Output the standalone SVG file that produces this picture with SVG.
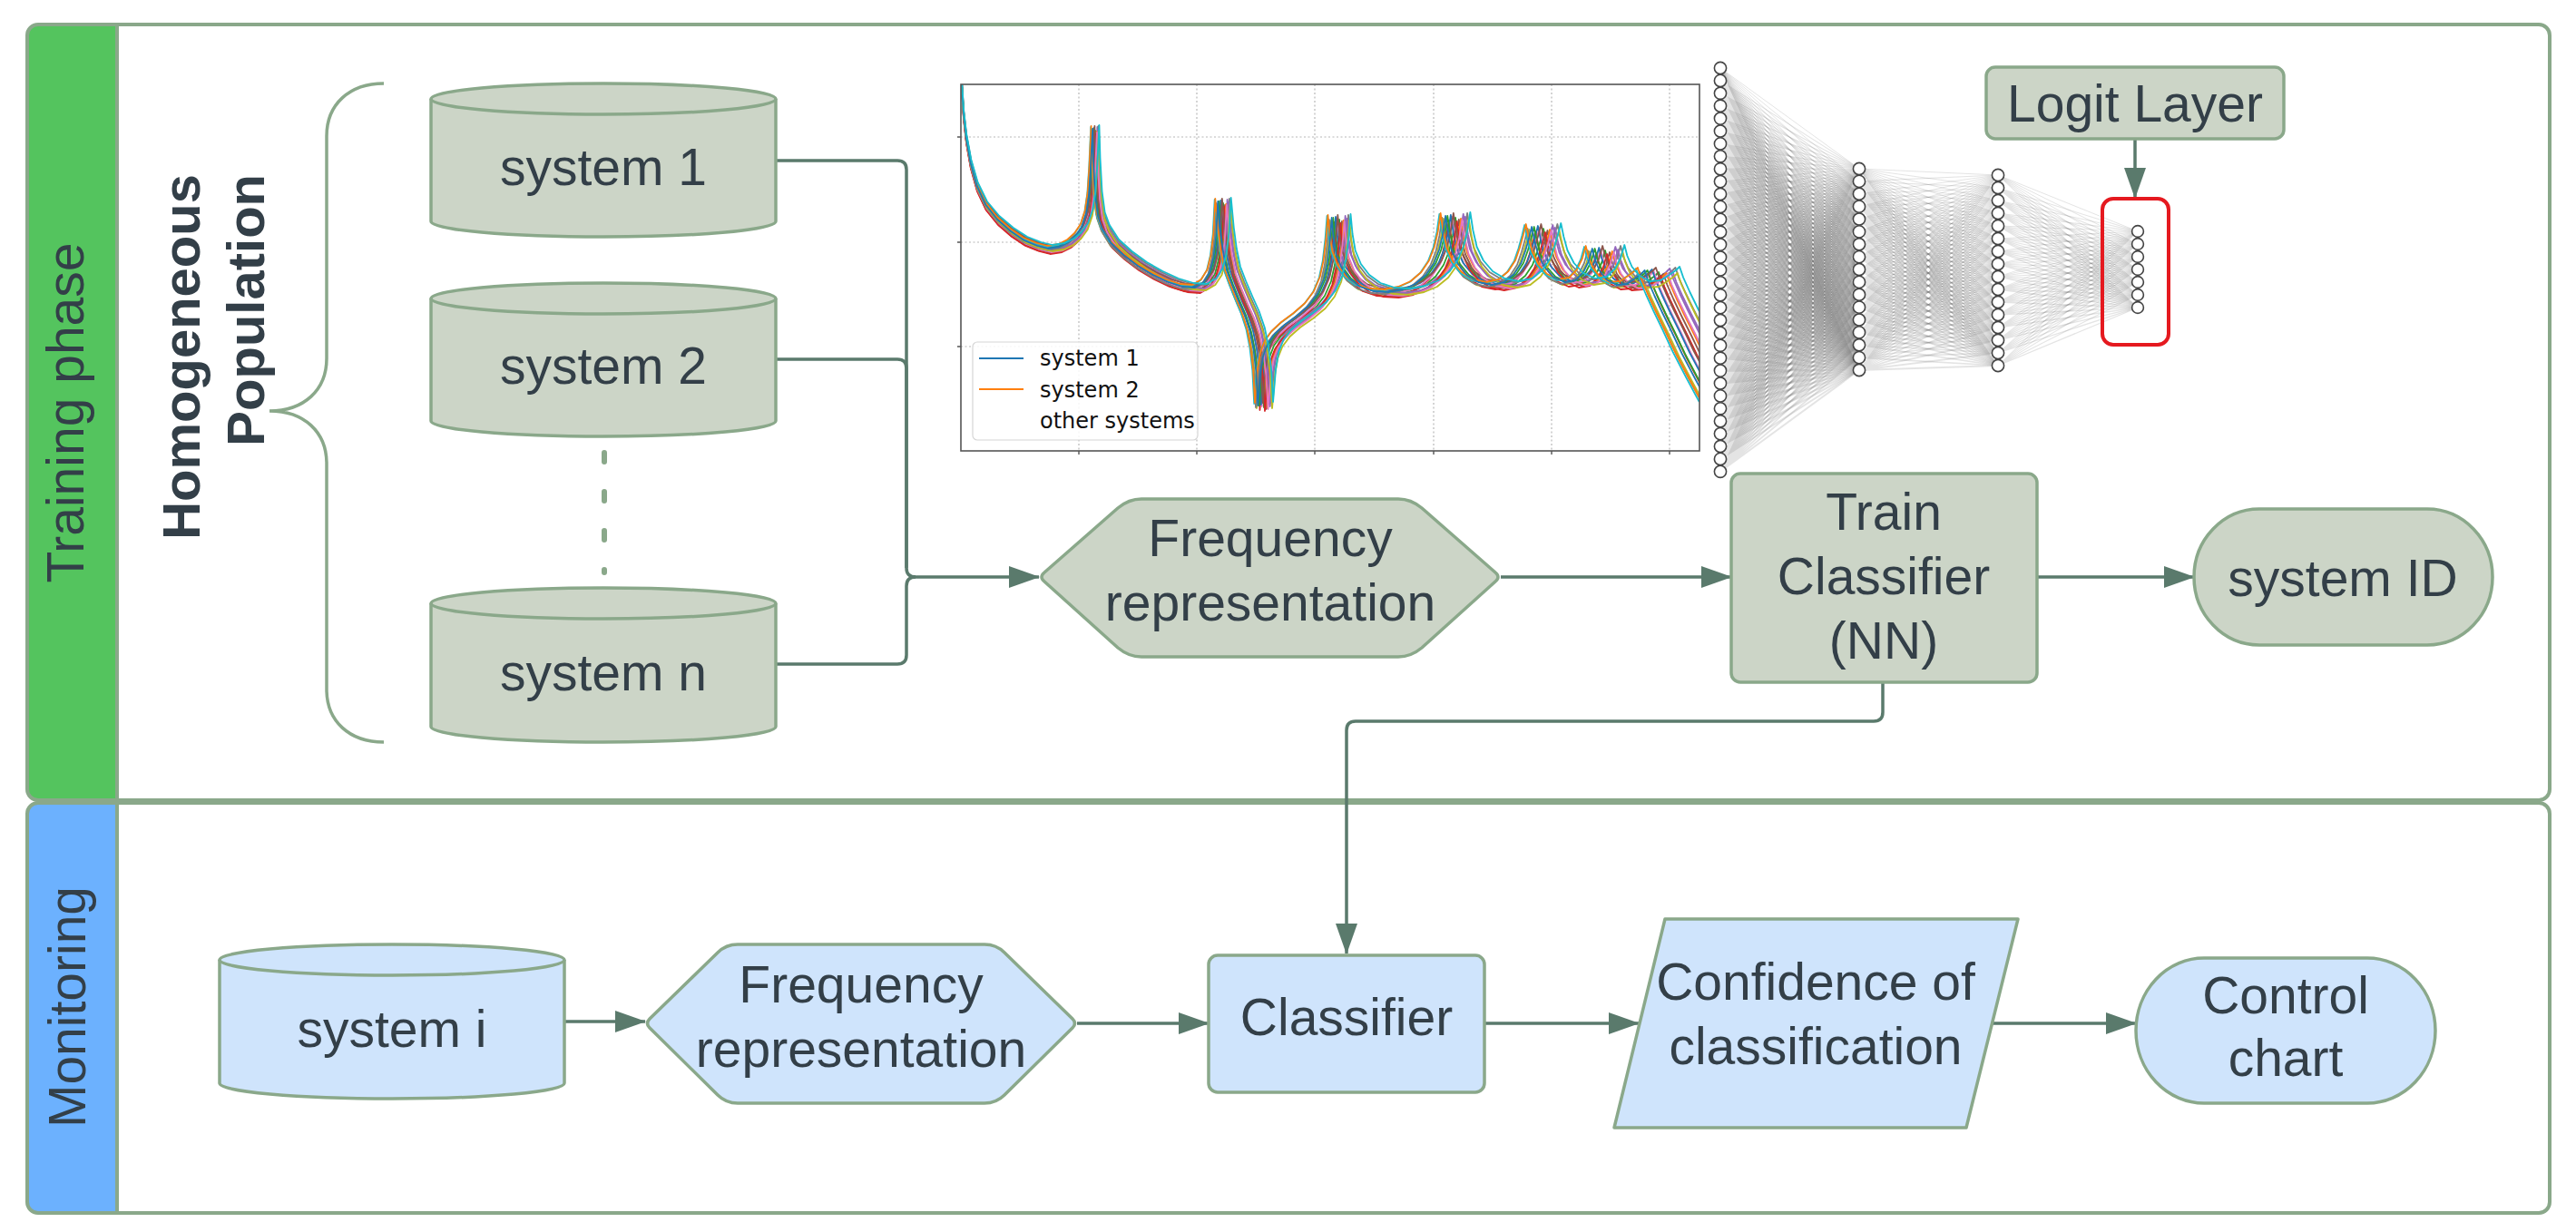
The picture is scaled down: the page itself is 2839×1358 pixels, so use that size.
<svg xmlns="http://www.w3.org/2000/svg" xmlns:xlink="http://www.w3.org/1999/xlink" width="2839" height="1358" viewBox="0 0 2839 1358">
<style>
.t{font-family:"Liberation Sans",Arial,sans-serif;font-size:57px;fill:#333f48;text-anchor:middle}
.lane{font-family:"Liberation Sans",Arial,sans-serif;font-size:57px;fill:#333f48;text-anchor:middle}
.hp{font-family:"Liberation Sans",Arial,sans-serif;font-size:58px;font-weight:bold;fill:#333f48;text-anchor:end}
.tn{fill:#ccd5c7;stroke:#8aa88a;stroke-width:3.5;stroke-linejoin:round}
.mn{fill:#cfe4fc;stroke:#8aa88a;stroke-width:3.5;stroke-linejoin:round}
.cn{fill:none;stroke:#5a7a6c;stroke-width:3.5}
.nd{fill:#fff;stroke:#444;stroke-width:1.6}
.lg{font-family:"DejaVu Sans",sans-serif;font-size:24px;fill:#111}
.grid{stroke:#b8b8b8;stroke-width:1.2;stroke-dasharray:2 2.5;fill:none}
</style>
<defs>
<marker id="ah" markerUnits="userSpaceOnUse" markerWidth="34" markerHeight="24" refX="33" refY="12" orient="auto"><path d="M0 0L34 12L0 24Z" fill="#5a7a6c"/></marker>
<clipPath id="plotclip"><rect x="1059" y="93" width="814" height="404"/></clipPath>
<path id="frf" fill="none" d="M1060,93 L1062,125 L1065,152 L1070,180 L1077,205 L1087,226 L1100,242 L1115,255 L1130,265 L1145,271 L1157,274 L1170,272 L1180,267 L1188,260 L1195,250 L1200,235 L1203,215 L1205,185 L1207,142 L1208,178 L1210,215 L1213,238 L1218,252 L1228,268 L1242,281 L1258,293 L1275,303 L1292,311 L1308,316 L1322,317 L1332,311 L1339,300 L1343,284 L1346,260 L1348,222 L1351,255 L1354,278 L1358,298 L1364,314 L1371,331 L1378,347 L1384,365 L1388,385 L1391,410 L1393,447 L1396,410 L1399,392 L1404,379 L1412,368 L1423,358 L1437,348 L1450,337 L1460,324 L1467,308 L1471,290 L1474,265 L1476,240 L1478,262 L1481,280 L1487,295 L1496,307 L1508,316 L1523,321 L1540,322 L1556,319 L1570,313 L1582,303 L1591,290 L1597,275 L1601,258 L1604,238 L1607,258 L1611,276 L1618,291 L1628,303 L1641,311 L1656,314 L1670,311 L1681,302 L1689,290 L1694,276 L1698,262 L1701,250 L1704,265 L1708,280 L1715,294 L1725,305 L1738,311 L1750,309 L1759,300 L1765,288 L1769,274 L1772,286 L1777,298 L1785,308 L1796,314 L1808,313 L1817,307 L1824,302 L1828,298 L1832,310 L1839,326 L1848,345 L1858,365 L1870,390 L1885,418 L1900,445"/>
<path id="fanA" d="M1896 75L2049 186M1896 75L2049 199.875M1896 75L2049 213.75M1896 75L2049 227.625M1896 75L2049 241.5M1896 75L2049 255.375M1896 75L2049 269.25M1896 75L2049 283.125M1896 75L2049 297M1896 75L2049 310.875M1896 75L2049 324.75M1896 75L2049 338.625M1896 75L2049 352.5M1896 75L2049 366.375M1896 75L2049 380.25M1896 75L2049 394.125M1896 75L2049 408"/>
<path id="fanB" d="M2049 186L2202 193M2049 186L2202 207M2049 186L2202 221M2049 186L2202 235M2049 186L2202 249M2049 186L2202 263M2049 186L2202 277M2049 186L2202 291M2049 186L2202 305M2049 186L2202 319M2049 186L2202 333M2049 186L2202 347M2049 186L2202 361M2049 186L2202 375M2049 186L2202 389M2049 186L2202 403"/>
<path id="fanC" d="M2202 193L2356 255M2202 193L2356 269M2202 193L2356 283M2202 193L2356 297M2202 193L2356 311M2202 193L2356 325M2202 193L2356 339"/>
</defs>

<rect width="2839" height="1358" fill="#fff"/>

<!-- Lanes -->
<g id="lane-training">
<path d="M42 27H129V882H42Q30 882 30 870V39Q30 27 42 27Z" fill="#54c45e"/>
<rect x="30" y="27" width="2780" height="855" rx="12" fill="none" stroke="#8aa88a" stroke-width="4"/>
<line x1="129" y1="27" x2="129" y2="882" stroke="#8aa88a" stroke-width="4"/>
<text class="lane" transform="translate(92,455) rotate(-90)">Training phase</text>
</g>
<g id="lane-monitoring">
<path d="M42 885H129V1337H42Q30 1337 30 1325V897Q30 885 42 885Z" fill="#6cb1fe"/>
<rect x="30" y="885" width="2780" height="452" rx="12" fill="none" stroke="#8aa88a" stroke-width="4"/>
<line x1="129" y1="885" x2="129" y2="1337" stroke="#8aa88a" stroke-width="4"/>
<text class="lane" transform="translate(94,1110) rotate(-90)">Monitoring</text>
</g>

<g id="population-label">
<text class="hp" transform="translate(220,192) rotate(-90)">Homogeneous</text>
<text class="hp" transform="translate(291,192) rotate(-90)">Population</text>
<path d="M423 92C385 92 360 115 360 150V395C360 430 335 453 297 453C335 453 360 476 360 511V760C360 795 385 818 423 818" fill="none" stroke="#8aa88a" stroke-width="3.5"/>
</g>

<!-- Connectors -->
<g id="connectors">
<path class="cn" d="M855 177H989Q999 177 999 187V626Q999 636 1009 636"/>
<path class="cn" d="M855 396H989Q999 396 999 406V626"/>
<path class="cn" d="M855 732H989Q999 732 999 722V646Q999 636 1009 636"/>
<line class="cn" x1="1005" y1="636" x2="1145" y2="636" marker-end="url(#ah)"/>
<line class="cn" x1="1654" y1="636" x2="1908" y2="636" marker-end="url(#ah)"/>
<line class="cn" x1="2245" y1="636" x2="2418" y2="636" marker-end="url(#ah)"/>
<line class="cn" x1="2353" y1="153" x2="2353" y2="218" marker-end="url(#ah)"/>
<path class="cn" d="M2075 752V785Q2075 795 2065 795H1494Q1484 795 1484 805V1051" marker-end="url(#ah)"/>
<line class="cn" x1="622" y1="1126" x2="711" y2="1126" marker-end="url(#ah)"/>
<line class="cn" x1="1187" y1="1128" x2="1332" y2="1128" marker-end="url(#ah)"/>
<line class="cn" x1="1636" y1="1128" x2="1806" y2="1128" marker-end="url(#ah)"/>
<line class="cn" x1="2196" y1="1128" x2="2354" y2="1128" marker-end="url(#ah)"/>
<line x1="666" y1="499" x2="666" y2="631" stroke="#8aa88a" stroke-width="6" stroke-linecap="round" stroke-dasharray="10 33"/>
</g>

<!-- Training nodes -->
<g id="system-1">
<path class="tn" d="M475 109A190 17 0 0 1 855 109V244A190 17 0 0 1 475 244Z"/>
<path class="tn" d="M475 109A190 17 0 0 0 855 109"/>
<text class="t" x="665" y="204">system 1</text>
</g>
<g id="system-2">
<path class="tn" d="M475 329A190 17 0 0 1 855 329V464A190 17 0 0 1 475 464Z"/>
<path class="tn" d="M475 329A190 17 0 0 0 855 329"/>
<text class="t" x="665" y="423">system 2</text>
</g>
<g id="system-n">
<path class="tn" d="M475 665A190 17 0 0 1 855 665V801A190 17 0 0 1 475 801Z"/>
<path class="tn" d="M475 665A190 17 0 0 0 855 665"/>
<text class="t" x="665" y="761">system n</text>
</g>
<g id="frequency-representation-1">
<path class="tn" d="M1151 631L1232 560Q1244 550 1258 550H1541Q1555 550 1567 560L1648 631Q1654 636 1648 641L1567 714Q1555 724 1541 724H1258Q1244 724 1232 714L1151 641Q1145 636 1151 631Z"/>
<text class="t" x="1400" y="613">Frequency</text>
<text class="t" x="1400" y="684">representation</text>
</g>
<g id="train-classifier">
<rect class="tn" x="1908" y="522" width="337" height="230" rx="10"/>
<text class="t" x="2076" y="584">Train</text>
<text class="t" x="2076" y="655">Classifier</text>
<text class="t" x="2076" y="726">(NN)</text>
</g>
<g id="system-id">
<rect class="tn" x="2418" y="561" width="329" height="150" rx="72" ry="75"/>
<text class="t" x="2582" y="657">system ID</text>
</g>
<g id="logit-layer">
<rect class="tn" x="2189" y="74" width="328" height="79" rx="10"/>
<text class="t" x="2353" y="134">Logit Layer</text>
</g>

<!-- Plot -->
<g id="frf-plot">
<rect x="1059" y="93" width="814" height="404" fill="#fff"/>
<path class="grid" d="M1189 93V497M1319 93V497M1449 93V497M1580 93V497M1710 93V497M1840 93V497M1059 151H1873M1059 267H1873M1059 382H1873"/>
<g clip-path="url(#plotclip)" stroke-width="1.8" stroke-linejoin="round">
<use xlink:href="#frf" href="#frf" stroke="#bcbd22" transform="matrix(0.976,0,0,1,25.416,3)"/>
<use xlink:href="#frf" href="#frf" stroke="#2ca02c" transform="matrix(1,0,0,1,0,2)"/>
<use xlink:href="#frf" href="#frf" stroke="#d62728" transform="matrix(0.9865,0,0,1,14.297,5)"/>
<use xlink:href="#frf" href="#frf" stroke="#9467bd" transform="matrix(1.016,0,0,1,-16.944,-2)"/>
<use xlink:href="#frf" href="#frf" stroke="#8c564b" transform="matrix(1.007,0,0,1,-7.413,4)"/>
<use xlink:href="#frf" href="#frf" stroke="#e377c2" transform="matrix(0.993,0,0,1,7.413,1)"/>
<use xlink:href="#frf" href="#frf" stroke="#7f7f7f" transform="matrix(1.024,0,0,1,-25.416,-3)"/>
<use xlink:href="#frf" href="#frf" stroke="#1f77b4" transform="matrix(0.9905,0,0,1,10.0605,-1)"/>
<use xlink:href="#frf" href="#frf" stroke="#ff7f0e" transform="matrix(1.011,0,0,1,-11.649,3)"/>
<use xlink:href="#frf" href="#frf" stroke="#2ca02c" transform="matrix(0.984,0,0,1,16.944,0)"/>
<use xlink:href="#frf" href="#frf" stroke="#d62728" transform="matrix(1.003,0,0,1,-3.177,6)"/>
<use xlink:href="#frf" href="#frf" stroke="#9467bd" transform="matrix(1.02,0,0,1,-21.18,1)"/>
<use xlink:href="#frf" href="#frf" stroke="#8c564b" transform="matrix(0.996,0,0,1,4.236,-3)"/>
<use xlink:href="#frf" href="#frf" stroke="#e377c2" transform="matrix(1.0135,0,0,1,-14.2965,4)"/>
<use xlink:href="#frf" href="#frf" stroke="#7f7f7f" transform="matrix(0.973,0,0,1,28.593,2)"/>
<use xlink:href="#frf" href="#frf" stroke="#bcbd22" transform="matrix(1.027,0,0,1,-28.593,3)"/>
<use xlink:href="#frf" href="#frf" stroke="#17becf" transform="matrix(0.9676,0,0,1,34.3116,-2)"/>
<use xlink:href="#frf" href="#frf" stroke="#ff7f0e" transform="matrix(0.97,0,0,1,31.77,-3)"/>
<use xlink:href="#frf" href="#frf" stroke="#1f77b4" transform="matrix(0.98,0,0,1,21.18,0)"/>
<use xlink:href="#frf" href="#frf" stroke="#17becf" transform="matrix(1.03,0,0,1,-31.77,-4)"/>
</g>
<rect x="1059" y="93" width="814" height="404" fill="none" stroke="#555" stroke-width="1.6"/>
<path d="M1055 151H1059M1055 267H1059M1055 382H1059M1189 497V501M1319 497V501M1449 497V501M1580 497V501M1710 497V501M1840 497V501" stroke="#555" stroke-width="1.4"/>
<rect x="1072" y="377" width="248" height="108" rx="5" fill="#fff" fill-opacity="0.85" stroke="#d6d6d6" stroke-width="1.2"/>
<line x1="1079" y1="395" x2="1128" y2="395" stroke="#1f77b4" stroke-width="2"/>
<line x1="1079" y1="429" x2="1128" y2="429" stroke="#ff7f0e" stroke-width="2"/>
<text class="lg" x="1146" y="403">system 1</text>
<text class="lg" x="1146" y="438">system 2</text>
<text class="lg" x="1146" y="472">other systems</text>
</g>

<!-- Neural network -->
<g id="neural-network">
<g fill="none" stroke="#7a7a7a" stroke-opacity="0.2" stroke-width="1">
<use href="#fanA" xlink:href="#fanA"/>
<use href="#fanA" xlink:href="#fanA" transform="matrix(1,-0.0908497,0,1,0,186.151)"/>
<use href="#fanA" xlink:href="#fanA" transform="matrix(1,-0.1816993,0,1,0,372.302)"/>
<use href="#fanA" xlink:href="#fanA" transform="matrix(1,-0.2725490,0,1,0,558.453)"/>
<use href="#fanA" xlink:href="#fanA" transform="matrix(1,-0.3633987,0,1,0,744.604)"/>
<use href="#fanA" xlink:href="#fanA" transform="matrix(1,-0.4542484,0,1,0,930.755)"/>
<use href="#fanA" xlink:href="#fanA" transform="matrix(1,-0.5450980,0,1,0,1116.906)"/>
<use href="#fanA" xlink:href="#fanA" transform="matrix(1,-0.6359477,0,1,0,1303.057)"/>
<use href="#fanA" xlink:href="#fanA" transform="matrix(1,-0.7267974,0,1,0,1489.208)"/>
<use href="#fanA" xlink:href="#fanA" transform="matrix(1,-0.8176471,0,1,0,1675.359)"/>
<use href="#fanA" xlink:href="#fanA" transform="matrix(1,-0.9084967,0,1,0,1861.510)"/>
<use href="#fanA" xlink:href="#fanA" transform="matrix(1,-0.9993464,0,1,0,2047.661)"/>
<use href="#fanA" xlink:href="#fanA" transform="matrix(1,-1.0901961,0,1,0,2233.812)"/>
<use href="#fanA" xlink:href="#fanA" transform="matrix(1,-1.1810458,0,1,0,2419.963)"/>
<use href="#fanA" xlink:href="#fanA" transform="matrix(1,-1.2718954,0,1,0,2606.114)"/>
<use href="#fanA" xlink:href="#fanA" transform="matrix(1,-1.3627451,0,1,0,2792.265)"/>
<use href="#fanA" xlink:href="#fanA" transform="matrix(1,-1.4535948,0,1,0,2978.416)"/>
<use href="#fanA" xlink:href="#fanA" transform="matrix(1,-1.5444444,0,1,0,3164.567)"/>
<use href="#fanA" xlink:href="#fanA" transform="matrix(1,-1.6352941,0,1,0,3350.718)"/>
<use href="#fanA" xlink:href="#fanA" transform="matrix(1,-1.7261438,0,1,0,3536.869)"/>
<use href="#fanA" xlink:href="#fanA" transform="matrix(1,-1.8169935,0,1,0,3723.020)"/>
<use href="#fanA" xlink:href="#fanA" transform="matrix(1,-1.9078431,0,1,0,3909.171)"/>
<use href="#fanA" xlink:href="#fanA" transform="matrix(1,-1.9986928,0,1,0,4095.322)"/>
<use href="#fanA" xlink:href="#fanA" transform="matrix(1,-2.0895425,0,1,0,4281.473)"/>
<use href="#fanA" xlink:href="#fanA" transform="matrix(1,-2.1803922,0,1,0,4467.624)"/>
<use href="#fanA" xlink:href="#fanA" transform="matrix(1,-2.2712418,0,1,0,4653.775)"/>
<use href="#fanA" xlink:href="#fanA" transform="matrix(1,-2.3620915,0,1,0,4839.925)"/>
<use href="#fanA" xlink:href="#fanA" transform="matrix(1,-2.4529412,0,1,0,5026.076)"/>
<use href="#fanA" xlink:href="#fanA" transform="matrix(1,-2.5437908,0,1,0,5212.227)"/>
<use href="#fanA" xlink:href="#fanA" transform="matrix(1,-2.6346405,0,1,0,5398.378)"/>
<use href="#fanA" xlink:href="#fanA" transform="matrix(1,-2.7254902,0,1,0,5584.529)"/>
<use href="#fanA" xlink:href="#fanA" transform="matrix(1,-2.8163399,0,1,0,5770.680)"/>
<use href="#fanA" xlink:href="#fanA" transform="matrix(1,-2.9071895,0,1,0,5956.831)"/>
<use href="#fanB" xlink:href="#fanB"/>
<use href="#fanB" xlink:href="#fanB" transform="matrix(1,-0.0906863,0,1,0,199.691)"/>
<use href="#fanB" xlink:href="#fanB" transform="matrix(1,-0.1813725,0,1,0,399.382)"/>
<use href="#fanB" xlink:href="#fanB" transform="matrix(1,-0.2720588,0,1,0,599.074)"/>
<use href="#fanB" xlink:href="#fanB" transform="matrix(1,-0.3627451,0,1,0,798.765)"/>
<use href="#fanB" xlink:href="#fanB" transform="matrix(1,-0.4534314,0,1,0,998.456)"/>
<use href="#fanB" xlink:href="#fanB" transform="matrix(1,-0.5441176,0,1,0,1198.147)"/>
<use href="#fanB" xlink:href="#fanB" transform="matrix(1,-0.6348039,0,1,0,1397.838)"/>
<use href="#fanB" xlink:href="#fanB" transform="matrix(1,-0.7254902,0,1,0,1597.529)"/>
<use href="#fanB" xlink:href="#fanB" transform="matrix(1,-0.8161765,0,1,0,1797.221)"/>
<use href="#fanB" xlink:href="#fanB" transform="matrix(1,-0.9068627,0,1,0,1996.912)"/>
<use href="#fanB" xlink:href="#fanB" transform="matrix(1,-0.9975490,0,1,0,2196.603)"/>
<use href="#fanB" xlink:href="#fanB" transform="matrix(1,-1.0882353,0,1,0,2396.294)"/>
<use href="#fanB" xlink:href="#fanB" transform="matrix(1,-1.1789216,0,1,0,2595.985)"/>
<use href="#fanB" xlink:href="#fanB" transform="matrix(1,-1.2696078,0,1,0,2795.676)"/>
<use href="#fanB" xlink:href="#fanB" transform="matrix(1,-1.3602941,0,1,0,2995.368)"/>
<use href="#fanB" xlink:href="#fanB" transform="matrix(1,-1.4509804,0,1,0,3195.059)"/>
<use href="#fanC" xlink:href="#fanC"/>
<use href="#fanC" xlink:href="#fanC" transform="matrix(1,-0.0909091,0,1,0,214.182)"/>
<use href="#fanC" xlink:href="#fanC" transform="matrix(1,-0.1818182,0,1,0,428.364)"/>
<use href="#fanC" xlink:href="#fanC" transform="matrix(1,-0.2727273,0,1,0,642.545)"/>
<use href="#fanC" xlink:href="#fanC" transform="matrix(1,-0.3636364,0,1,0,856.727)"/>
<use href="#fanC" xlink:href="#fanC" transform="matrix(1,-0.4545455,0,1,0,1070.909)"/>
<use href="#fanC" xlink:href="#fanC" transform="matrix(1,-0.5454545,0,1,0,1285.091)"/>
<use href="#fanC" xlink:href="#fanC" transform="matrix(1,-0.6363636,0,1,0,1499.273)"/>
<use href="#fanC" xlink:href="#fanC" transform="matrix(1,-0.7272727,0,1,0,1713.455)"/>
<use href="#fanC" xlink:href="#fanC" transform="matrix(1,-0.8181818,0,1,0,1927.636)"/>
<use href="#fanC" xlink:href="#fanC" transform="matrix(1,-0.9090909,0,1,0,2141.818)"/>
<use href="#fanC" xlink:href="#fanC" transform="matrix(1,-1,0,1,0,2356)"/>
<use href="#fanC" xlink:href="#fanC" transform="matrix(1,-1.0909091,0,1,0,2570.182)"/>
<use href="#fanC" xlink:href="#fanC" transform="matrix(1,-1.1818182,0,1,0,2784.364)"/>
<use href="#fanC" xlink:href="#fanC" transform="matrix(1,-1.2727273,0,1,0,2998.545)"/>
<use href="#fanC" xlink:href="#fanC" transform="matrix(1,-1.3636364,0,1,0,3212.727)"/>
</g>
<g class="layer">
<circle class="nd" cx="1896" cy="75" r="6.6"/><circle class="nd" cx="1896" cy="88.9" r="6.6"/><circle class="nd" cx="1896" cy="102.8" r="6.6"/><circle class="nd" cx="1896" cy="116.7" r="6.6"/><circle class="nd" cx="1896" cy="130.6" r="6.6"/><circle class="nd" cx="1896" cy="144.5" r="6.6"/><circle class="nd" cx="1896" cy="158.4" r="6.6"/><circle class="nd" cx="1896" cy="172.3" r="6.6"/><circle class="nd" cx="1896" cy="186.2" r="6.6"/><circle class="nd" cx="1896" cy="200.1" r="6.6"/><circle class="nd" cx="1896" cy="214" r="6.6"/><circle class="nd" cx="1896" cy="227.9" r="6.6"/><circle class="nd" cx="1896" cy="241.8" r="6.6"/><circle class="nd" cx="1896" cy="255.7" r="6.6"/><circle class="nd" cx="1896" cy="269.6" r="6.6"/><circle class="nd" cx="1896" cy="283.5" r="6.6"/><circle class="nd" cx="1896" cy="297.4" r="6.6"/><circle class="nd" cx="1896" cy="311.3" r="6.6"/><circle class="nd" cx="1896" cy="325.2" r="6.6"/><circle class="nd" cx="1896" cy="339.1" r="6.6"/><circle class="nd" cx="1896" cy="353" r="6.6"/><circle class="nd" cx="1896" cy="366.9" r="6.6"/><circle class="nd" cx="1896" cy="380.8" r="6.6"/><circle class="nd" cx="1896" cy="394.7" r="6.6"/><circle class="nd" cx="1896" cy="408.6" r="6.6"/><circle class="nd" cx="1896" cy="422.5" r="6.6"/><circle class="nd" cx="1896" cy="436.4" r="6.6"/><circle class="nd" cx="1896" cy="450.3" r="6.6"/><circle class="nd" cx="1896" cy="464.2" r="6.6"/><circle class="nd" cx="1896" cy="478.1" r="6.6"/><circle class="nd" cx="1896" cy="492" r="6.6"/><circle class="nd" cx="1896" cy="505.9" r="6.6"/><circle class="nd" cx="1896" cy="519.8" r="6.6"/>
</g>
<g class="layer">
<circle class="nd" cx="2049" cy="186" r="6.6"/><circle class="nd" cx="2049" cy="199.875" r="6.6"/><circle class="nd" cx="2049" cy="213.75" r="6.6"/><circle class="nd" cx="2049" cy="227.625" r="6.6"/><circle class="nd" cx="2049" cy="241.5" r="6.6"/><circle class="nd" cx="2049" cy="255.375" r="6.6"/><circle class="nd" cx="2049" cy="269.25" r="6.6"/><circle class="nd" cx="2049" cy="283.125" r="6.6"/><circle class="nd" cx="2049" cy="297" r="6.6"/><circle class="nd" cx="2049" cy="310.875" r="6.6"/><circle class="nd" cx="2049" cy="324.75" r="6.6"/><circle class="nd" cx="2049" cy="338.625" r="6.6"/><circle class="nd" cx="2049" cy="352.5" r="6.6"/><circle class="nd" cx="2049" cy="366.375" r="6.6"/><circle class="nd" cx="2049" cy="380.25" r="6.6"/><circle class="nd" cx="2049" cy="394.125" r="6.6"/><circle class="nd" cx="2049" cy="408" r="6.6"/>
</g>
<g class="layer">
<circle class="nd" cx="2202" cy="193" r="6.6"/><circle class="nd" cx="2202" cy="207" r="6.6"/><circle class="nd" cx="2202" cy="221" r="6.6"/><circle class="nd" cx="2202" cy="235" r="6.6"/><circle class="nd" cx="2202" cy="249" r="6.6"/><circle class="nd" cx="2202" cy="263" r="6.6"/><circle class="nd" cx="2202" cy="277" r="6.6"/><circle class="nd" cx="2202" cy="291" r="6.6"/><circle class="nd" cx="2202" cy="305" r="6.6"/><circle class="nd" cx="2202" cy="319" r="6.6"/><circle class="nd" cx="2202" cy="333" r="6.6"/><circle class="nd" cx="2202" cy="347" r="6.6"/><circle class="nd" cx="2202" cy="361" r="6.6"/><circle class="nd" cx="2202" cy="375" r="6.6"/><circle class="nd" cx="2202" cy="389" r="6.6"/><circle class="nd" cx="2202" cy="403" r="6.6"/>
</g>
<g class="layer">
<circle class="nd" cx="2356" cy="255" r="6.4"/><circle class="nd" cx="2356" cy="269" r="6.4"/><circle class="nd" cx="2356" cy="283" r="6.4"/><circle class="nd" cx="2356" cy="297" r="6.4"/><circle class="nd" cx="2356" cy="311" r="6.4"/><circle class="nd" cx="2356" cy="325" r="6.4"/><circle class="nd" cx="2356" cy="339" r="6.4"/>
</g>
<rect x="2317" y="219" width="73" height="161" rx="12" fill="none" stroke="#e5191f" stroke-width="4"/>
</g>

<!-- Monitoring nodes -->
<g id="system-i">
<path class="mn" d="M242 1058A190 17 0 0 1 622 1058V1194A190 17 0 0 1 242 1194Z"/>
<path class="mn" d="M242 1058A190 17 0 0 0 622 1058"/>
<text class="t" x="432" y="1154">system i</text>
</g>
<g id="frequency-representation-2">
<path class="mn" d="M716 1123L791 1050Q800 1041 813 1041H1085Q1098 1041 1107 1050L1182 1123Q1187 1128 1182 1133L1107 1207Q1098 1216 1085 1216H813Q800 1216 791 1207L716 1133Q711 1128 716 1123Z"/>
<text class="t" x="949" y="1105">Frequency</text>
<text class="t" x="949" y="1176">representation</text>
</g>
<g id="classifier">
<rect class="mn" x="1332" y="1053" width="304" height="151" rx="10"/>
<text class="t" x="1484" y="1141">Classifier</text>
</g>
<g id="confidence">
<path class="mn" d="M1835 1013H2224L2167 1243H1779Z"/>
<text class="t" x="2001" y="1102">Confidence of</text>
<text class="t" x="2001" y="1173">classification</text>
</g>
<g id="control-chart">
<rect class="mn" x="2354" y="1056" width="330" height="160" rx="75" ry="80"/>
<text class="t" x="2519" y="1117">Control</text>
<text class="t" x="2519" y="1186">chart</text>
</g>
</svg>
